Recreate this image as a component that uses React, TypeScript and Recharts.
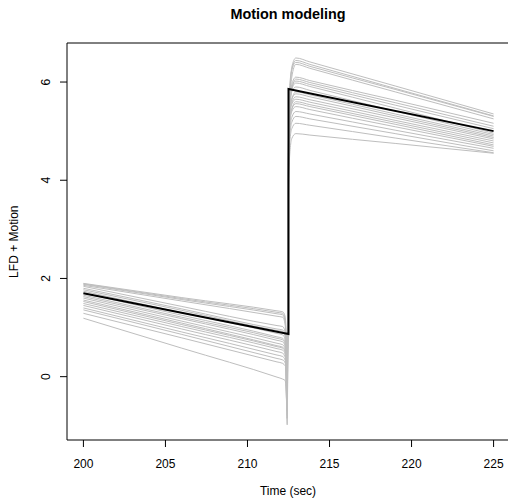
import { LineChart, Line, XAxis, YAxis, ReferenceArea } from "recharts";

// time points (sec) at which every gray run is sampled
const TIME = [200, 206, 211.8, 212.15, 212.3, 212.42, 212.52, 212.7, 212.95, 213.8, 219, 225];

// gray runs, one value per run at each time point above
const START = [1.9, 1.89, 1.88, 1.86, 1.84, 1.8, 1.77, 1.74, 1.7, 1.66, 1.63, 1.6, 1.56, 1.53, 1.49, 1.45, 1.4, 1.36, 1.29, 1.19];
const MID_PRE = [1.61, 1.59, 1.57, 1.54, 1.43, 1.38, 1.35, 1.3, 1.25, 1.21, 1.18, 1.13, 1.09, 1.06, 1.02, 0.97, 0.91, 0.86, 0.79, 0.58];
const LATE_PRE = [1.34, 1.31, 1.28, 1.23, 1.04, 0.97, 0.94, 0.88, 0.81, 0.78, 0.74, 0.68, 0.63, 0.61, 0.57, 0.51, 0.44, 0.37, 0.3, -0.01];
const BEFORE_JUMP = [1.32, 1.29, 1.26, 1.21, 1.02, 0.95, 0.92, 0.85, 0.78, 0.75, 0.71, 0.65, 0.6, 0.58, 0.54, 0.48, 0.41, 0.34, 0.27, -0.05];
const HOOK = [1.22, 1.15, 1.1, 1.05, 0.9, 0.85, 0.82, 0.75, 0.7, 0.65, 0.62, 0.56, 0.52, 0.5, 0.45, 0.4, 0.33, 0.28, 0.22, -0.08];
const SPIKE = [0.6, -0.2, 0.3, -0.5, 0.1, -0.98, 0.4, -0.3, 0.2, -0.7, 0.5, -0.1, 0.3, -0.85, 0.0, 0.35, -0.4, 0.1, 0.15, -0.6];
const RISE = [4.8, 5.2, 5.6, 5.0, 5.3, 4.5, 5.5, 5.2, 5.4, 4.9, 5.3, 5.0, 5.2, 4.6, 5.0, 5.1, 4.7, 4.6, 4.5, 4.2];
const SHOULDER = [6.3, 6.25, 6.25, 6.1, 5.95, 5.85, 5.9, 5.85, 5.8, 5.65, 5.65, 5.58, 5.55, 5.45, 5.45, 5.4, 5.28, 5.18, 5.05, 4.85];
const PEAK = [6.49, 6.44, 6.4, 6.36, 6.1, 6.06, 6.02, 5.98, 5.9, 5.8, 5.76, 5.7, 5.65, 5.6, 5.56, 5.5, 5.4, 5.3, 5.16, 4.95];
const EARLY_POST = [6.41, 6.36, 6.32, 6.28, 6.03, 5.99, 5.95, 5.91, 5.83, 5.74, 5.7, 5.64, 5.59, 5.54, 5.5, 5.44, 5.35, 5.25, 5.12, 4.92];
const MID_POST = [5.92, 5.87, 5.85, 5.8, 5.63, 5.58, 5.53, 5.47, 5.41, 5.35, 5.31, 5.27, 5.22, 5.18, 5.14, 5.09, 5.02, 4.95, 4.86, 4.75];
const END = [5.35, 5.31, 5.3, 5.25, 5.16, 5.1, 5.05, 4.96, 4.93, 4.9, 4.87, 4.84, 4.8, 4.76, 4.72, 4.69, 4.65, 4.6, 4.56, 4.55];

// black mean curve
const MEAN_TIME = [200, 212.5, 212.5, 225];
const MEAN_VALUE = [1.7, 0.87, 5.86, 5.0];

const X_TICKS = [200, 205, 210, 215, 220, 225];
const Y_TICKS = [0, 2, 4, 6];

const FONT = "'Liberation Sans', Arial, Helvetica, sans-serif";

const columns = [START, MID_PRE, LATE_PRE, BEFORE_JUMP, HOOK, SPIKE, RISE, SHOULDER, PEAK, EARLY_POST, MID_POST, END];
const runs = START.map((_, i) => TIME.map((t, k) => ({ t, v: columns[k][i] })));
const mean = MEAN_TIME.map((t, k) => ({ t, v: MEAN_VALUE[k] }));

const XTick = ({ x, y, payload }: any) => (
  <text x={x} y={y + 20.6} textAnchor="middle" fontSize={12} fontFamily={FONT} fill="#000">
    {payload.value}
  </text>
);

const YTick = ({ x, y, payload }: any) => (
  <text
    x={x - 10}
    y={y}
    transform={`rotate(-90, ${x - 10}, ${y})`}
    textAnchor="middle"
    fontSize={12}
    fontFamily={FONT}
    fill="#000"
  >
    {payload.value}
  </text>
);

export default function App() {
  return (
    <div
      style={{
        position: "absolute",
        left: 0,
        top: 0,
        width: 508,
        height: 502,
        overflow: "hidden",
        background: "#fff",
      }}
    >
      <LineChart width={512} height={502} margin={{ top: 43, right: 2, bottom: 0, left: 0 }}>
        <XAxis
          dataKey="t"
          type="number"
          domain={[199, 226]}
          allowDataOverflow
          ticks={X_TICKS}
          tick={<XTick />}
          tickSize={7}
          tickMargin={0}
          tickLine={{ stroke: "#000" }}
          axisLine={false}
          height={62}
        />
        <YAxis
          type="number"
          domain={[-1.29, 6.795]}
          allowDataOverflow
          ticks={Y_TICKS}
          tick={<YTick />}
          tickSize={7}
          tickMargin={0}
          tickLine={{ stroke: "#000" }}
          axisLine={false}
          width={67}
        />
        {runs.map((run, i) => (
          <Line
            key={i}
            data={run}
            dataKey="v"
            type="monotone"
            stroke="#bebebe"
            strokeWidth={1}
            dot={false}
            isAnimationActive={false}
          />
        ))}
        <Line
          data={mean}
          dataKey="v"
          type="linear"
          stroke="#000"
          strokeWidth={2}
          dot={false}
          isAnimationActive={false}
        />
        <ReferenceArea
          x1={199}
          x2={226}
          y1={-1.29}
          y2={6.795}
          fill="none"
          stroke="#000"
          strokeWidth={1}
          ifOverflow="visible"
        />
      </LineChart>
      <svg
        width={508}
        height={502}
        style={{ position: "absolute", left: 0, top: 0, pointerEvents: "none" }}
      >
        <text x={288} y={18.5} textAnchor="middle" fontSize={14.4} fontWeight="bold" fontFamily={FONT}>
          Motion modeling
        </text>
        <text x={288} y={495} textAnchor="middle" fontSize={12} fontFamily={FONT}>
          Time (sec)
        </text>
        <text
          x={18.3}
          y={241.7}
          transform="rotate(-90, 18.3, 241.7)"
          textAnchor="middle"
          fontSize={12}
          fontFamily={FONT}
        >
          LFD + Motion
        </text>
      </svg>
    </div>
  );
}
